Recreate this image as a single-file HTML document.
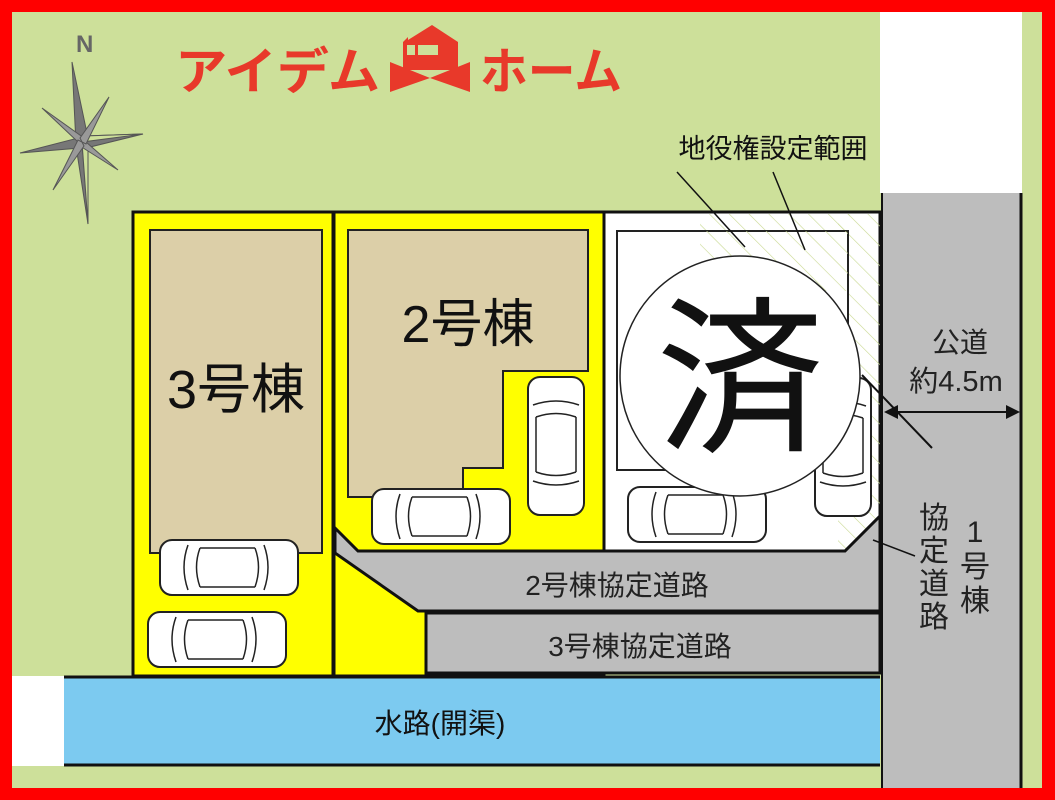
<!DOCTYPE html>
<html><head><meta charset="utf-8"><style>
html,body{margin:0;padding:0;background:#f00;}
svg{display:block}
text{font-family:"Liberation Sans","Noto Sans CJK JP",sans-serif;}
</style></head><body>
<svg width="1055" height="800" viewBox="0 0 1055 800" xmlns="http://www.w3.org/2000/svg">
<defs>
<pattern id="hatch" width="14" height="14" patternUnits="userSpaceOnUse" patternTransform="rotate(-45)">
<line x1="0" y1="0" x2="0" y2="14" stroke="#c8d890" stroke-width="1.2"/>
</pattern>
<g id="carH">
<rect x="0" y="0" width="138" height="55" rx="12" fill="#fff" stroke="#222" stroke-width="2"/>
<path d="M28 5 Q20 27 28 50 M104 5 Q112 27 104 50 M40 8 L95 8 M40 47 L95 47 M40 8 Q33 27 40 47 M95 8 Q102 27 95 47" fill="none" stroke="#222" stroke-width="1.5"/>
</g>
<g id="carV">
<rect x="0" y="0" width="56" height="138" rx="12" fill="#fff" stroke="#222" stroke-width="2"/>
<path d="M5 28 Q28 20 51 28 M5 104 Q28 112 51 104 M8 40 L8 95 M48 40 L48 95 M8 40 Q28 33 48 40 M8 95 Q28 102 48 95" fill="none" stroke="#222" stroke-width="1.5"/>
</g>
</defs>
<rect x="12" y="12" width="1030" height="776" fill="#cde09a"/>
<rect x="880" y="12" width="142" height="181" fill="#fff"/>
<rect x="882" y="193" width="138" height="595" fill="#bdbdbd"/>
<line x1="1021" y1="193" x2="1021" y2="788" stroke="#111" stroke-width="3"/>
<line x1="882" y1="193" x2="882" y2="788" stroke="#111" stroke-width="2"/>

<!-- lots -->
<rect x="133" y="212" width="200" height="464" fill="#ffff00" stroke="#111" stroke-width="3"/>
<rect x="334" y="212" width="270" height="464" fill="#ffff00" stroke="#111" stroke-width="3"/>
<rect x="604" y="212" width="276" height="340" fill="#fff" stroke="#111" stroke-width="3"/>
<rect x="838" y="214" width="42" height="336" fill="url(#hatch)"/>
<rect x="700" y="214" width="150" height="18" fill="url(#hatch)"/>
<rect x="150" y="230" width="172" height="323" fill="#dccfa8" stroke="#222" stroke-width="2"/>
<polygon points="348,230 588,230 588,371 503,371 503,468 463,468 463,497 348,497" fill="#dccfa8" stroke="#222" stroke-width="2"/>
<rect x="617" y="231" width="231" height="239" fill="#fff" stroke="#222" stroke-width="2"/>
<rect x="700" y="231" width="148" height="60" fill="url(#hatch)"/>

<!-- roads -->
<polygon points="335,528 358,551 845,551 880,516 880,611 418,611 335,553" fill="#bdbdbd" stroke="#111" stroke-width="3"/>
<rect x="426" y="613" width="454" height="60" fill="#bdbdbd" stroke="#111" stroke-width="3"/>
<text x="617" y="595" font-size="28" text-anchor="middle" fill="#222">2号棟協定道路</text>
<text x="640" y="656" font-size="28" text-anchor="middle" fill="#222">3号棟協定道路</text>

<!-- water -->
<rect x="12" y="676" width="52" height="90" fill="#fff"/>
<rect x="64" y="677" width="816" height="88" fill="#7ccaf0"/>
<line x1="64" y1="677" x2="880" y2="677" stroke="#111" stroke-width="3"/>
<line x1="64" y1="765" x2="880" y2="765" stroke="#111" stroke-width="3"/>
<text x="440" y="733" font-size="28" text-anchor="middle" fill="#111">水路(開渠)</text>

<!-- cars -->
<use href="#carH" x="160" y="540"/>
<use href="#carH" x="148" y="612"/>
<use href="#carH" x="372" y="489"/>
<use href="#carV" x="528" y="377"/>
<use href="#carH" x="628" y="487"/>
<use href="#carV" x="815" y="378"/>

<!-- labels -->
<text x="236" y="408" font-size="54" text-anchor="middle" fill="#111">3号棟</text>
<text x="468" y="342" font-size="52" text-anchor="middle" fill="#111">2号棟</text>

<!-- leader lines -->
<line x1="677" y1="172" x2="745" y2="247" stroke="#111" stroke-width="1.5"/>
<line x1="773" y1="172" x2="805" y2="250" stroke="#111" stroke-width="1.5"/>
<line x1="862" y1="375" x2="932" y2="448" stroke="#111" stroke-width="2"/>
<line x1="873" y1="540" x2="915" y2="556" stroke="#111" stroke-width="1.5"/>

<circle cx="740" cy="376" r="120" fill="#fff" stroke="#222" stroke-width="1.5"/>
<text x="740" y="438" font-size="168" text-anchor="middle" fill="#111">済</text>

<text x="773" y="158" font-size="27" text-anchor="middle" fill="#111">地役権設定範囲</text>
<text x="960" y="352" font-size="28" text-anchor="middle" fill="#222">公道</text>
<text x="956" y="391" font-size="29" text-anchor="middle" fill="#222">約4.5m</text>
<line x1="886" y1="412" x2="1018" y2="412" stroke="#111" stroke-width="2"/>
<polygon points="884,412 898,405 898,419" fill="#111"/>
<polygon points="1020,412 1006,405 1006,419" fill="#111"/>
<g font-size="30" fill="#222" text-anchor="middle">
<text x="934" y="528">協</text><text x="934" y="561">定</text><text x="934" y="594">道</text><text x="934" y="627">路</text>
<text x="975" y="542">1</text><text x="975" y="577">号</text><text x="975" y="611">棟</text>
</g>

<!-- logo -->
<g fill="#e8392a">
<text x="175" y="89" font-size="50" font-weight="bold" textLength="205" lengthAdjust="spacingAndGlyphs">アイデム</text>
<polygon points="403,70 403,42 408,37 408,40 432,25 458,42 458,70"/>
<rect x="407" y="45" width="8" height="10" fill="#cde09a"/>
<rect x="418" y="45" width="20" height="10" fill="#cde09a"/>
<polygon points="390,62 430,78 390,92"/>
<polygon points="470,62 430,78 470,92"/>
<text x="480" y="89" font-size="50" font-weight="bold" textLength="142" lengthAdjust="spacingAndGlyphs">ホーム</text>
</g>

<!-- compass -->
<g fill="#777" stroke="#555" stroke-width="1">
<text x="76" y="52" font-size="24" font-weight="bold" fill="#666" stroke="none">N</text>
<polygon points="72,62 88,138 82,142 76,144"/>
<polygon points="88,224 82,142 76,146" fill="#777"/>
<polygon points="88,224 88,140 82,142" fill="#cde09a"/>
<polygon points="20,153 78,138 82,142 80,148"/>
<polygon points="143,134 86,148 82,142 84,136"/>
<polygon points="143,134 82,142 84,136" fill="#cde09a"/>
<polygon points="42,108 84,138 82,142 78,142" fill="#999"/>
<polygon points="118,170 80,146 82,142 86,142" fill="#999"/>
<polygon points="109,97 86,144 82,142 80,138" fill="#999"/>
<polygon points="53,190 78,140 82,142 84,146" fill="#999"/>
</g>
</svg>
</body></html>
